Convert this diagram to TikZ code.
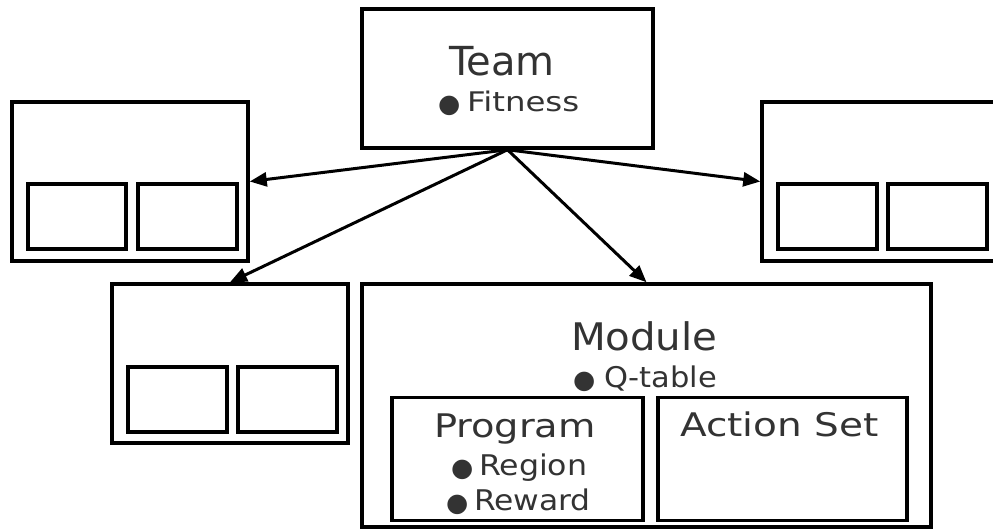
\documentclass[tikz,border=0pt]{standalone}
\usepackage{fontspec}
\usepackage{graphicx}
\setmainfont{DejaVu Sans}
\usetikzlibrary{arrows.meta}
\definecolor{ink}{HTML}{333333}
\newcommand\sz[1]{\fontsize{#1}{#1}\selectfont}
\newcommand\wide[2]{\scalebox{#1}[1]{#2}}
\begin{document}
\begin{tikzpicture}[x=1pt,y=-1pt,
  frame/.style={draw=black,line width=3.5pt,minimum width=#1,inner sep=0pt},
  lbl/.style={text=ink,inner sep=0pt,outer sep=0pt,anchor=base west},
  dot/.style={text=ink,inner sep=0pt,outer sep=0pt,anchor=base west,font=\sz{25.5}},
  link/.style={draw=black,line width=3pt,-{Triangle[length=17pt,width=14pt]}}]
\useasboundingbox (0,0) rectangle (993,529);
\fill[white] (0,0) rectangle (993,529);

% team box
\node[frame=291pt,minimum height=139pt] (team) at (507.5,78.5) {};
% upper left group
\node[frame=236pt,minimum height=159pt] (lt) at (130,181.5) {};
\node[frame=98pt,minimum height=65pt] (lta) at (77,216.5) {};
\node[frame=99pt,minimum height=65pt] (ltb) at (187.5,216.5) {};
% upper right group
\node[frame=236pt,minimum height=159pt] (rt) at (880,181.5) {};
\node[frame=99pt,minimum height=65pt] (rta) at (827.5,216.5) {};
\node[frame=99pt,minimum height=65pt] (rtb) at (937.5,216.5) {};
% lower left group
\node[frame=236pt,minimum height=159pt] (lb) at (230,363.5) {};
\node[frame=99pt,minimum height=65pt] (lba) at (177.5,399.5) {};
\node[frame=99pt,minimum height=65pt] (lbb) at (287.5,399.5) {};
% module with program and action set
\node[frame=569pt,minimum height=243pt] (module) at (646.5,405.5) {};
\node[frame=251pt,minimum height=123pt] (program) at (517.5,459) {};
\node[frame=249pt,minimum height=123pt] (actions) at (782.5,459) {};

% labels
\node[lbl] (teamT) at (449,76) {\wide{1.0}{\sz{40}Team}};
\node[dot] (teamD) at (438,113) {●};
\node[lbl] (teamF) at (467,112) {\wide{1.2}{\sz{27}Fitness}};

\node[lbl] (modT) at (571,350) {\wide{1.06}{\sz{38}Module}};
\node[dot] (modD) at (573,388) {●};
\node[lbl] (modQ) at (604,387) {\wide{1.07}{\sz{28.5}Q-table}};

\node[lbl] (progT) at (434,437) {\wide{1.18}{\sz{32.5}Program}};
\node[dot] (progD1) at (451,476) {●};
\node[lbl] (progR1) at (479,475) {\wide{1.11}{\sz{28.5}Region}};
\node[dot] (progD2) at (446,511) {●};
\node[lbl] (progR2) at (474,510) {\wide{1.1}{\sz{28.5}Reward}};

\node[lbl] (actT) at (680,436) {\wide{1.2}{\sz{32.5}Action Set}};

% links from the team
\draw[link] (team.south) -- (lt.east);
\draw[link] (team.south) -- (rt.west);
\draw[link] (team.south) -- (lb.north);
\draw[link] (team.south) -- (module.north);
\end{tikzpicture}
\end{document}
